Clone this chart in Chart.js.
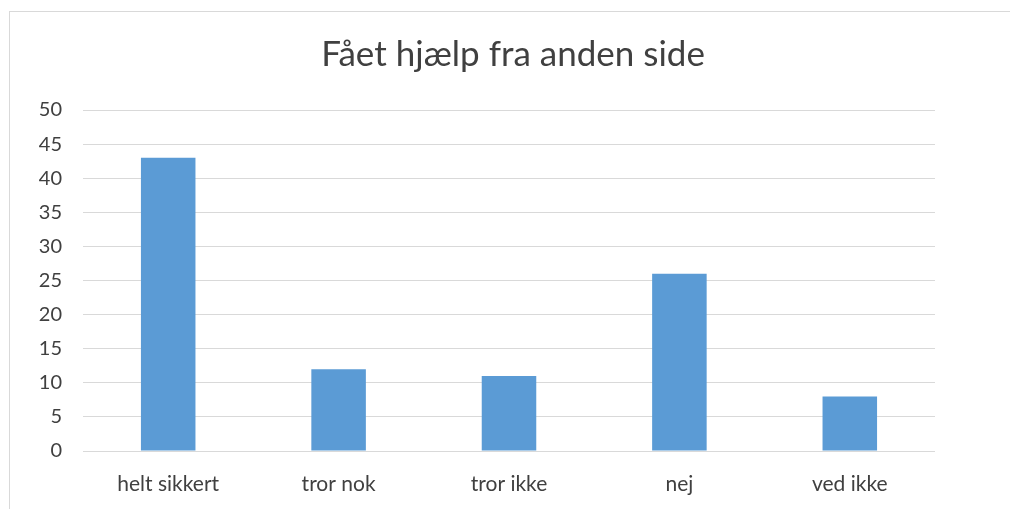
<!DOCTYPE html>
<html>
<head>
<meta charset="utf-8">
<script src="https://cdn.jsdelivr.net/npm/chart.js@4"></script>
<style>
  html, body { margin: 0; padding: 0; background: #fff; }
  #wrap { width: 1010px; height: 509px; }
</style>
</head>
<body>
<div id="wrap"><canvas id="chart" width="1010" height="509"></canvas></div>
<script>
const kategorier = ['helt sikkert', 'tror nok', 'tror ikke', 'nej', 'ved ikke']
const antal = [43, 12, 11, 26, 8]
const yTicks = [0, 5, 10, 15, 20, 25, 30, 35, 40, 45, 50]

// ramme om diagrammet
const ramme = {
    id: 'ramme',
    beforeDraw(chart){
        const c = chart.ctx
        c.save()
        c.strokeStyle = '#d9d9d9'
        c.lineWidth = 1
        c.strokeRect(9.5, 11.5, 1200, 600)
        c.restore()
    }
}

const ctx = document.getElementById('chart').getContext('2d')
const myChart = new Chart(ctx, {
    type: 'bar',
    data: {
        labels: kategorier,
        datasets: [{
            label: 'Fået hjælp fra anden side',
            data: antal,
            backgroundColor: '#5b9bd5',
            borderWidth: 0,
            categoryPercentage: 1,
            barPercentage: 0.32
        }]
    },
    options: {
        responsive: false,
        animation: false,
        layout: { padding: { top: 16, left: 16, right: 0, bottom: 0 } },
        plugins: {
            legend: { display: false },
            tooltip: { enabled: false },
            title: {
                display: true,
                text: 'Fået hjælp fra anden side',
                color: '#404040',
                font: { family: 'Lato', size: 35, weight: 'normal', lineHeight: 1.2 },
                padding: { top: 18, bottom: 34 }
            }
        },
        scales: {
            x: {
                grid: { display: false },
                border: { display: false },
                ticks: { color: '#404040', font: { family: 'Lato', size: 21 }, padding: 13 },
                afterFit(scale){ scale.height = 58 }
            },
            y: {
                min: 0,
                max: 50,
                afterBuildTicks(scale){ scale.ticks = yTicks.map(v => ({ value: v })) },
                grid: { color: '#d9d9d9', lineWidth: 1, drawTicks: false },
                border: { display: false },
                ticks: { color: '#404040', font: { family: 'Lato', size: 20 }, padding: 21 },
                afterFit(scale){ scale.width = 67 }
            },
            hoejre: {
                position: 'right',
                min: 0,
                max: 50,
                grid: { display: false },
                border: { display: false },
                ticks: { display: false },
                afterFit(scale){ scale.width = 75 }
            }
        }
    },
    plugins: [ramme]
})
</script>
</body>
</html>
